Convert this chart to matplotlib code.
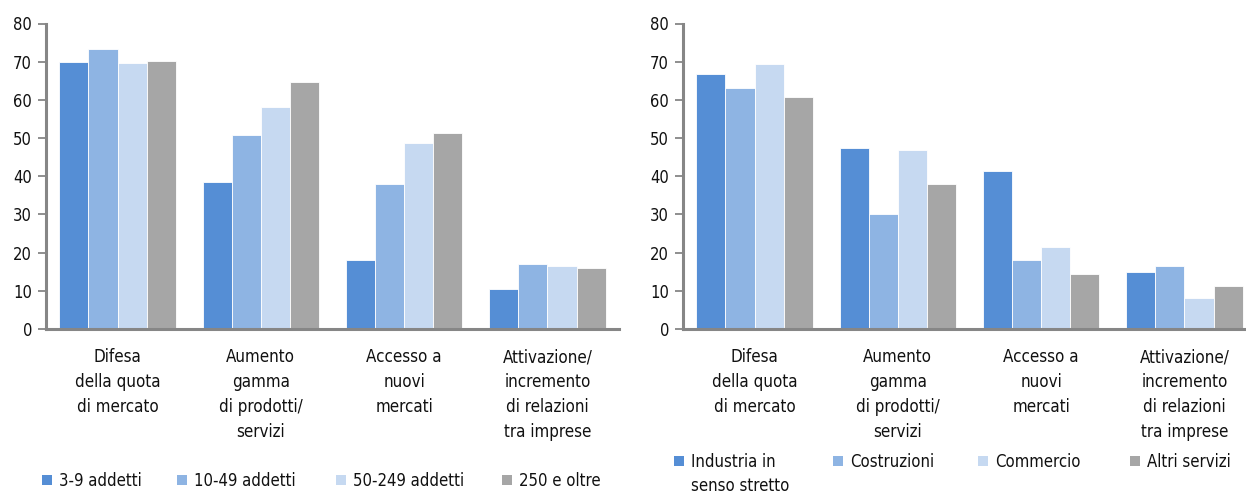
import os
import matplotlib
matplotlib.use("Agg")
import matplotlib.pyplot as plt
from matplotlib import font_manager as fm
from matplotlib.patches import Patch
import numpy as np

categories = [
    "Difesa\ndella quota\ndi mercato",
    "Aumento\ngamma\ndi prodotti/\nservizi",
    "Accesso a\nnuovi\nmercati",
    "Attivazione/\nincremento\ndi relazioni\ntra imprese",
]

# Left panel: by firm size
size_labels = ["3-9 addetti", "10-49 addetti", "50-249 addetti", "250 e oltre"]
size_3_9 = [69.8, 38.4, 18.1, 10.6]
size_10_49 = [73.4, 50.9, 37.9, 16.9]
size_50_249 = [69.7, 58.2, 48.8, 16.4]
size_250 = [70.3, 64.6, 51.4, 16.0]

# Right panel: by sector
sector_labels = ["Industria in", "Costruzioni", "Commercio", "Altri servizi"]
sector_label_extra = "senso stretto"
industria = [66.7, 47.3, 41.5, 14.8]
costruzioni = [63.0, 30.0, 18.1, 16.4]
commercio = [69.3, 46.8, 21.6, 8.0]
altri_servizi = [60.7, 38.0, 14.3, 11.2]

yticks = [0, 10, 20, 30, 40, 50, 60, 70, 80]

colors = ["#558ED5", "#8EB4E3", "#C6D9F1", "#A6A6A6"]
axis_grey = "#868686"
text_col = "#111111"


def narrow_font_file():
    prefs = ["liberationsansnarrow-regular", "arialnarrow",
             "notosans-extracondensed.", "notosans-condensed.",
             "notosans-semicondensed.", "dejavusanscondensed.",
             "robotocondensed-regular", "opensans-condensedregular"]
    files = [f.fname for f in fm.fontManager.ttflist]
    for p in prefs:
        for f in files:
            if p in os.path.basename(f).lower():
                return f
    return None


nf = narrow_font_file()


def FP(size):
    if nf:
        return fm.FontProperties(fname=nf, size=size)
    return fm.FontProperties(family="Liberation Sans", size=size)


fig = plt.figure(figsize=(12.46, 4.93), dpi=100)
renderer = fig.canvas.get_renderer()


def fit_size(text, target_px, base=10.0):
    w, _, _ = renderer.get_text_width_height_descent(text, FP(base), ismath=False)
    return base * target_px / w


def line_spacing(size, pitch_px):
    _, h, d = renderer.get_text_width_height_descent("lp", FP(size), ismath=False)
    return (pitch_px - 0.5 * d) / (h - d)


cat_size = fit_size("della quota", 86)
tick_size = fit_size("80", 19)
leg_size = 0.5 * (fit_size("10-49 addetti", 99) + fit_size("Costruzioni", 86))
cat_ls = line_spacing(cat_size, 23.0)
px_per_pt = 100 / 72.0

W = 573 / 1246
H = (329 - 23.5) / 493
B = (493 - 329) / 493
ax_l = fig.add_axes([46 / 1246, B, W, H])
ax_r = fig.add_axes([683 / 1246, B, W, H])

group_w = 0.814
bw = group_w / 4
x = np.arange(len(categories))


def draw_panel(ax, series):
    for j, vals in enumerate(series):
        ax.bar(x + (j - 1.5) * bw, vals, width=bw, color=colors[j],
               edgecolor="white", linewidth=0.6, zorder=2)
    ax.set_xlim(-0.5, 3.5)
    ax.set_ylim(0, 80)
    ax.set_yticks(yticks)
    ax.set_yticklabels([str(t) for t in yticks], color=text_col)
    for t in ax.get_yticklabels():
        t.set_fontproperties(FP(tick_size))
    ax.set_xticks(x)
    ax.set_xticklabels(categories, color=text_col, linespacing=cat_ls)
    for t in ax.get_xticklabels():
        t.set_fontproperties(FP(cat_size))
    ax.tick_params(axis="x", length=0, pad=14)
    ax.tick_params(axis="y", length=6, width=1.3, color=axis_grey, pad=4)
    for s in ("top", "right"):
        ax.spines[s].set_visible(False)
    for s in ("left", "bottom"):
        ax.spines[s].set_color(axis_grey)
        ax.spines[s].set_linewidth(2.2)


draw_panel(ax_l, [size_3_9, size_10_49, size_50_249, size_250])
draw_panel(ax_r, [industria, costruzioni, commercio, altri_servizi])

# Legend entries, one per series, placed along a row under each panel
sq = 10 / (leg_size * px_per_pt)


def legend_row(labels, xs_px, y_px):
    legs = []
    for lab, c, xp in zip(labels, colors, xs_px):
        lg = fig.legend([Patch(facecolor=c, edgecolor="none")], [lab],
                        loc="center left",
                        bbox_to_anchor=(xp / 1246, 1 - y_px / 493),
                        frameon=False, prop=FP(leg_size),
                        handlelength=sq, handleheight=sq,
                        handletextpad=0.45, borderpad=0, borderaxespad=0)
        for t in lg.get_texts():
            t.set_color(text_col)
        legs.append(lg)
    return legs


legend_row(size_labels, [42, 177, 336, 502], 481)
legs_r = legend_row(sector_labels, [674, 833, 978, 1130], 462)

# second line of the first sector label, under "Industria in"
fig.canvas.draw()
bb = legs_r[0].get_texts()[0].get_window_extent()
fig.text(bb.x0 / fig.bbox.width, (bb.y0 - 24.0) / fig.bbox.height,
         sector_label_extra, fontproperties=FP(leg_size), color=text_col,
         ha="left", va="bottom")

fig.savefig("out.png", dpi=100)
